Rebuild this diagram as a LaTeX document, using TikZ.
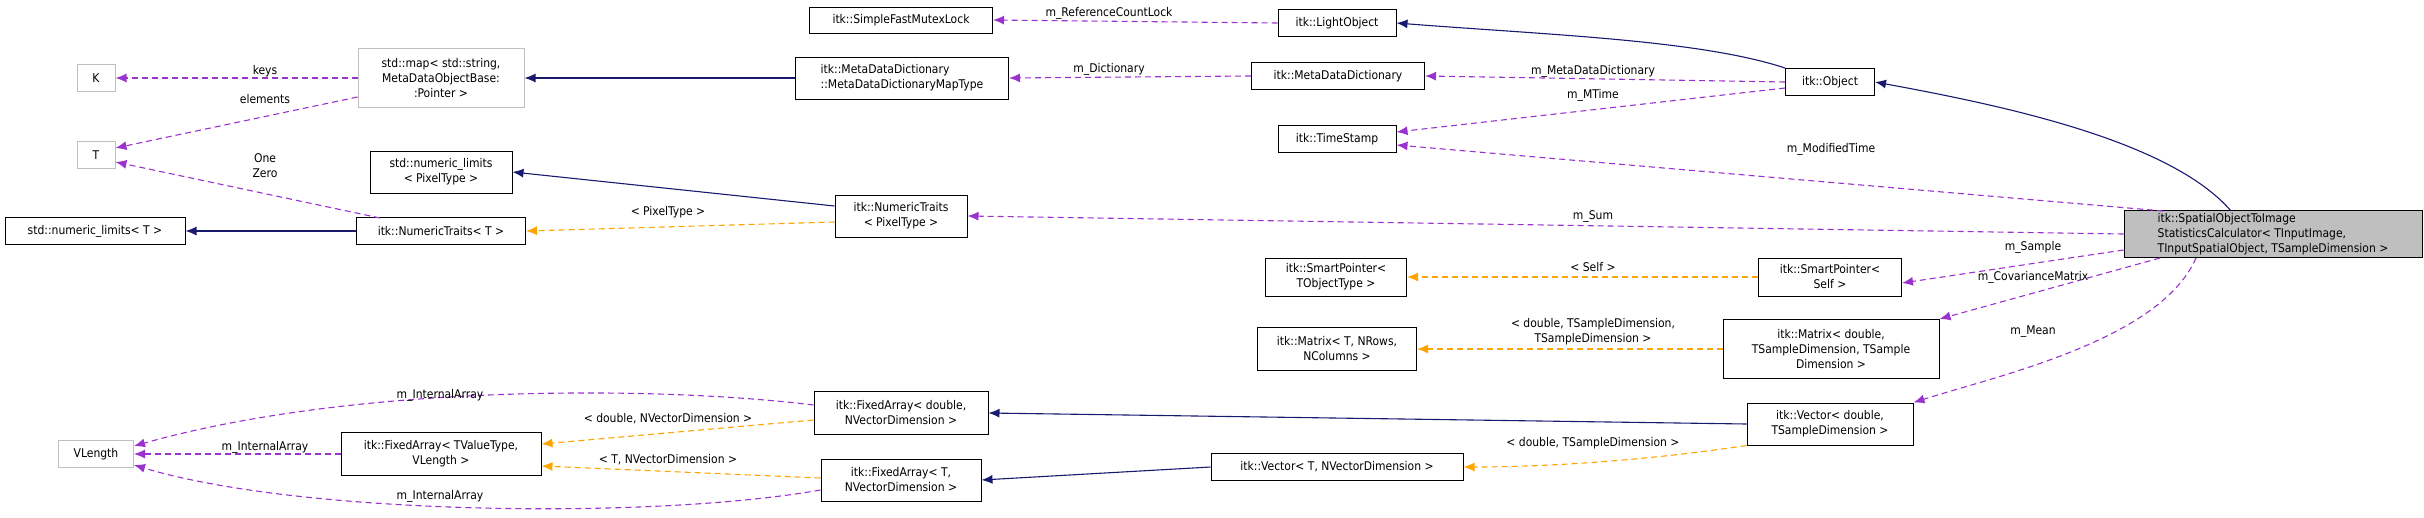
\documentclass[tikz,border=0pt]{standalone}
\usepackage{fontspec}
\setmainfont{DejaVu Sans Condensed}
\usetikzlibrary{arrows.meta}
\definecolor{inh}{HTML}{191970}
\definecolor{use}{HTML}{9A32CD}
\definecolor{tpl}{HTML}{FFA500}
\begin{document}
\begin{tikzpicture}[x=1pt,y=-1pt,
  every node/.style={font=\fontsize{12}{15}\selectfont, inner sep=2pt},
  box/.style={draw=black, line width=1pt, fill=white, align=center},
  gbox/.style={draw=black!25, line width=1pt, fill=white, align=center},
  lbl/.style={align=center},
  tip/.style={-{Latex[length=11pt,width=9pt]}},
  inhe/.style={tip, draw=inh, line width=1.1pt},
  usee/.style={tip, draw=use, line width=1.1pt, dash pattern=on 6pt off 4pt},
  tple/.style={tip, draw=tpl, line width=1.1pt, dash pattern=on 6pt off 4pt}]
\useasboundingbox (0,0) rectangle (2424,517);
% nodes
\node[box, minimum width=183pt, minimum height=26pt] (sfml) at (901,20) {itk::SimpleFastMutexLock};
\node[box, minimum width=118pt, minimum height=27pt] (lo) at (1337,23) {itk::LightObject};
\node[gbox, minimum width=166pt, minimum height=59pt] (map) at (441,78) {std::map< std::string,\\MetaDataObjectBase:\\:Pointer >};
\node[gbox, minimum width=38pt, minimum height=27pt] (K) at (96,78) {K};
\node[box, minimum width=213pt, minimum height=42pt, align=left] (mddmt) at (902,78) {itk::MetaDataDictionary\\::MetaDataDictionaryMapType};
\node[box, minimum width=173pt, minimum height=27pt] (mdd) at (1338,76) {itk::MetaDataDictionary};
\node[box, minimum width=89pt, minimum height=27pt] (obj) at (1830,82) {itk::Object};
\node[gbox, minimum width=38pt, minimum height=27pt] (T) at (96,155) {T};
\node[box, minimum width=142pt, minimum height=42pt] (nlp) at (441,172) {std::numeric\_limits\\< PixelType >};
\node[box, minimum width=118pt, minimum height=27pt] (ts) at (1337,139) {itk::TimeStamp};
\node[box, minimum width=132pt, minimum height=42pt] (ntp) at (901,216) {itk::NumericTraits\\< PixelType >};
\node[box, minimum width=180pt, minimum height=27pt] (nlt) at (95,231) {std::numeric\_limits< T >};
\node[box, minimum width=169pt, minimum height=27pt] (ntt) at (441,231) {itk::NumericTraits< T >};
\node[box, fill=black!25, minimum width=298pt, minimum height=47pt, align=left] (main) at (2273,234) {itk::SpatialObjectToImage\\StatisticsCalculator< TInputImage,\\ TInputSpatialObject, TSampleDimension >};
\node[box, minimum width=141pt, minimum height=38pt] (spt) at (1336,277) {itk::SmartPointer<\\TObjectType >};
\node[box, minimum width=143pt, minimum height=38pt] (sps) at (1830,277) {itk::SmartPointer<\\Self >};
\node[box, minimum width=159pt, minimum height=43pt] (mt) at (1337,349) {itk::Matrix< T, NRows,\\NColumns >};
\node[box, minimum width=216pt, minimum height=59pt] (md) at (1831,349) {itk::Matrix< double,\\TSampleDimension, TSample\\Dimension >};
\node[box, minimum width=166pt, minimum height=42pt] (vd) at (1830,424) {itk::Vector< double,\\TSampleDimension >};
\node[box, minimum width=252pt, minimum height=27pt] (vt) at (1337,467) {itk::Vector< T, NVectorDimension >};
\node[gbox, minimum width=75pt, minimum height=27pt] (vl) at (96,454) {VLength};
\node[box, minimum width=200pt, minimum height=43pt] (fav) at (441,454) {itk::FixedArray< TValueType,\\VLength >};
\node[box, minimum width=174pt, minimum height=43pt] (fad) at (901,413) {itk::FixedArray< double,\\NVectorDimension >};
\node[box, minimum width=160pt, minimum height=42pt] (fat) at (901,480) {itk::FixedArray< T,\\NVectorDimension >};
% edges
\draw[usee] (lo.west) -- (sfml.east);
\draw[inhe] (mddmt.west) -- (map.east);
\draw[usee] (map.west) -- (K.east);
\draw[usee] (map.west|-0,97) -- (T.east|-0,148);
\draw[usee] (mdd.west) -- (mddmt.east);
\draw[inhe] (obj.north west) .. controls (1700,40) and (1550,35) .. (lo.east);
\draw[usee] (obj.west) -- (mdd.east);
\draw[usee] (obj.west|-0,88) -- (ts.east|-0,132);
\draw[inhe] (main.north|-0,211) ++(-42,0) .. controls (2170,140) and (2000,105) .. (obj.east);
\draw[usee] (2163,211) -- (ts.east|-0,145);
\draw[usee] (main.west) -- (ntp.east);
\draw[inhe] (ntp.west|-0,206) -- (nlp.east);
\draw[tple] (ntp.west|-0,222) -- (ntt.east);
\draw[inhe] (ntt.west) -- (nlt.east);
\draw[usee] (380,218) -- (T.east|-0,162);
\draw[usee] (main.west|-0,250) -- (sps.east|-0,283);
\draw[tple] (sps.west) -- (spt.east);
\draw[usee] (2160,258) -- (md.north east);
\draw[tple] (md.west) -- (mt.east);
\draw[usee] (2196,258) .. controls (2160,340) and (2000,375) .. (vd.north east);
\draw[inhe] (vd.west) -- (fad.east);
\draw[tple] (vd.south west) .. controls (1650,460) and (1550,467) .. (vt.east);
\draw[inhe] (vt.west) -- (fat.east);
\draw[usee] (fad.west|-0,405) .. controls (650,385) and (350,385) .. (vl.north east|-0,446);
\draw[tple] (fad.west|-0,420) -- (fav.east|-0,444);
\draw[usee] (fav.west) -- (vl.east);
\draw[tple] (fat.west|-0,478) -- (fav.east|-0,466);
\draw[usee] (fat.west|-0,490) .. controls (650,520) and (300,515) .. (vl.east|-0,465);
% labels
\node[lbl] (l1) at (1109,13) {m\_ReferenceCountLock};
\node[lbl] (l2) at (265,71) {keys};
\node[lbl] (l3) at (265,99) {elements};
\node[lbl] (l4) at (1109,69) {m\_Dictionary};
\node[lbl] (l5) at (1593,71) {m\_MetaDataDictionary};
\node[lbl] (l6) at (1593,95) {m\_MTime};
\node[lbl] (l7) at (1831,149) {m\_ModifiedTime};
\node[lbl] (l8) at (265,166) {One\\Zero};
\node[lbl] (l9) at (668,212) {< PixelType >};
\node[lbl] (l10) at (1593,216) {m\_Sum};
\node[lbl] (l11) at (2033,247) {m\_Sample};
\node[lbl] (l12) at (1593,267) {< Self >};
\node[lbl] (l13) at (2033,277) {m\_CovarianceMatrix};
\node[lbl] (l14) at (1593,332) {< double, TSampleDimension,\\TSampleDimension >};
\node[lbl] (l15) at (2033,332) {m\_Mean};
\node[lbl] (l16) at (1593,443) {< double, TSampleDimension >};
\node[lbl] (l17) at (440,395) {m\_InternalArray};
\node[lbl] (l18) at (668,419) {< double, NVectorDimension >};
\node[lbl] (l19) at (265,447) {m\_InternalArray};
\node[lbl] (l20) at (668,460) {< T, NVectorDimension >};
\node[lbl] (l21) at (440,496) {m\_InternalArray};
\end{tikzpicture}
\end{document}
